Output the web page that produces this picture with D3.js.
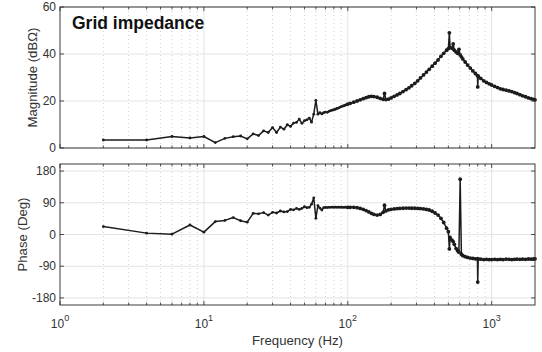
<!DOCTYPE html>
<html>
<head>
<meta charset="utf-8">
<script src="https://cdn.jsdelivr.net/npm/d3@7"></script>
<style>
    body { margin: 0; background: #fff; }
    svg text { font-family: "Liberation Sans", Arial, sans-serif; }
</style>
</head>
<body>
<div id="chart"></div>
<script>
// Measured grid impedance (frequency in Hz)
const freq = [
    2, 4, 6, 8, 10, 12, 14, 16, 18, 20,
    22, 24, 26, 28, 30, 32, 34, 36, 38, 40,
    42, 44, 46, 48, 50, 52, 54, 56, 58, 60,
    62, 64, 66, 68, 70, 72, 74, 76, 78, 80,
    82, 84, 86, 88, 90, 92, 94, 96, 98,
    100, 104, 110, 116, 122, 128, 134, 140, 146, 152,
    160, 168, 176, 180, 184, 192, 200, 210, 220, 230,
    242, 254, 266, 278, 292, 306, 320, 336, 352, 368,
    386, 404, 424, 444, 464, 486, 500, 508, 514, 530,
    540, 550, 566, 580, 592, 604, 616, 630, 654, 680,
    710, 740, 770, 796, 800, 806, 840, 880, 920, 960,
    1000, 1050, 1100, 1150, 1200, 1260, 1320, 1380, 1440, 1500,
    1570, 1640, 1720, 1800, 1880, 1960, 2000
];

const magnitude = [
    3.4, 3.4, 4.9, 4.3, 4.9, 2.3, 4.1, 4.8, 5.1, 3.9,
    6.0, 5.3, 7.3, 6.6, 8.7, 6.6, 8.9, 8.0, 9.9, 9.2,
    10.6, 10.9, 12.3, 10.5, 11.6, 12.0, 12.7, 11.0, 14.4, 20.3,
    14.4, 15.0, 14.5, 15.0, 15.3, 15.2, 15.6, 15.9, 16.1, 16.3,
    16.5, 16.8, 17.0, 17.3, 17.6, 17.8, 18.0, 18.2, 18.5,
    18.7, 19.0, 19.5, 20.0, 20.5, 21.0, 21.4, 21.8, 22.0, 21.9,
    21.6, 21.1, 20.7, 23.2, 20.6, 20.8, 21.3, 22.0, 22.6, 23.2,
    24.0, 24.8, 25.6, 26.5, 27.5, 28.6, 29.8, 31.1, 32.3, 33.5,
    34.8, 36.1, 37.5, 39.0, 40.3, 41.6, 42.3, 49.0, 42.8, 42.4,
    44.3, 41.6, 40.9, 40.3, 42.0, 39.6, 38.8, 37.9, 36.6, 35.3,
    34.0, 32.8, 31.7, 30.8, 26.0, 30.6, 29.6, 28.6, 27.9, 27.3,
    26.8, 26.2, 25.7, 25.2, 24.9, 24.6, 24.3, 24.0, 23.6, 23.2,
    22.7, 22.2, 21.8, 21.3, 21.0, 20.7, 20.5
];

const phase = [
    22.5, 3.9, 1, 27, 6.6, 36.6, 40, 48, 39, 35,
    60, 58.6, 62, 55, 63, 61, 66.7, 64, 65, 71,
    70, 74, 71, 74, 79, 76, 77, 86, 104, 46,
    82, 75, 69.5, 76, 77, 76.5, 77, 77, 77.5, 77,
    77.5, 77, 77.5, 77, 77.5, 77, 77, 77.5, 77,
    77, 77, 77, 76, 74, 71.5, 68, 64, 60, 57,
    55, 57, 63, 83, 67, 70, 71.5, 72.5, 73.5, 74,
    74.5, 75, 75, 74.5, 74.5, 74, 73.5, 72.5, 71, 69.5,
    66, 61, 55, 46, 34, 18, 8, -41, -8, -16,
    -20, -28, -40, -46, -50, 157, -56, -60, -63, -65,
    -67, -68, -69, -69, -135, -69.5, -70, -71, -70.5, -71,
    -71, -70.5, -71, -70.5, -71, -70, -70.5, -71, -70.5, -70,
    -70.5, -70, -70.5, -69.5, -70, -69.5, -69
];

const decades = [1, 10, 100, 1000];
const decadeExp = ["0", "1", "2", "3"];
const magTicks = [0, 20, 40, 60];
const phaseTicks = [-180, -90, 0, 90, 180];

const width = 542, height = 352;
const left = 60, right = 535;

const svg = d3.select("#chart").append("svg")
    .attr("width", width)
    .attr("height", height);

const x = d3.scaleLog().domain([1, 2000]).range([left, right]);
const minorTicks = decades.flatMap(d => d3.range(2, 10).map(k => k * d)).filter(v => v < 2000);

const axisColor = "#262626";
const textColor = "#333";

function drawPanel(cfg) {
    const y = d3.scaleLinear().domain(cfg.domain).range([cfg.bottom, cfg.top]);
    const g = svg.append("g");

    // minor grid (dotted)
    g.selectAll(".minor-grid")
        .data(minorTicks)
        .enter().append("line")
        .attr("x1", d => x(d)).attr("x2", d => x(d))
        .attr("y1", cfg.top).attr("y2", cfg.bottom)
        .attr("stroke", "#c4c4c4")
        .attr("stroke-width", 0.8)
        .attr("stroke-dasharray", "1,3");

    // major grid
    g.selectAll(".xgrid")
        .data(decades.slice(1))
        .enter().append("line")
        .attr("x1", d => x(d)).attr("x2", d => x(d))
        .attr("y1", cfg.top).attr("y2", cfg.bottom)
        .attr("stroke", "#e3e3e3");

    g.selectAll(".ygrid")
        .data(cfg.ticks)
        .enter().append("line")
        .attr("x1", left).attr("x2", right)
        .attr("y1", d => y(d)).attr("y2", d => y(d))
        .attr("stroke", "#e3e3e3");

    // data line + markers
    const pts = freq.map((f, i) => ({ f: f, v: cfg.values[i] }));
    g.append("path")
        .datum(pts)
        .attr("fill", "none")
        .attr("stroke", "#1c1c1c")
        .attr("stroke-width", 1.5)
        .attr("stroke-linejoin", "round")
        .attr("d", d3.line().x(d => x(d.f)).y(d => y(d.v)));

    g.selectAll(".pt")
        .data(pts)
        .enter().append("circle")
        .attr("cx", d => x(d.f))
        .attr("cy", d => y(d.v))
        .attr("r", d => d.f >= 100 ? 1.9 : 1.4)
        .attr("fill", "#1c1c1c");

    // frame
    g.append("rect")
        .attr("x", left).attr("y", cfg.top)
        .attr("width", right - left).attr("height", cfg.bottom - cfg.top)
        .attr("fill", "none")
        .attr("stroke", axisColor)
        .attr("stroke-width", 0.9);

    // x ticks (inside, top and bottom)
    const xt = decades.map(d => ({ v: d, len: 4 }))
        .concat(minorTicks.map(d => ({ v: d, len: 2.5 })));
    g.selectAll(".xtb")
        .data(xt)
        .enter().append("line")
        .attr("x1", d => x(d.v)).attr("x2", d => x(d.v))
        .attr("y1", cfg.bottom).attr("y2", d => cfg.bottom - d.len)
        .attr("stroke", axisColor).attr("stroke-width", 0.8);
    g.selectAll(".xtt")
        .data(xt)
        .enter().append("line")
        .attr("x1", d => x(d.v)).attr("x2", d => x(d.v))
        .attr("y1", cfg.top).attr("y2", d => cfg.top + d.len)
        .attr("stroke", axisColor).attr("stroke-width", 0.8);

    // y ticks (inside, left and right)
    g.selectAll(".ytl")
        .data(cfg.ticks)
        .enter().append("line")
        .attr("x1", left).attr("x2", left + 4)
        .attr("y1", d => y(d)).attr("y2", d => y(d))
        .attr("stroke", axisColor).attr("stroke-width", 0.8);
    g.selectAll(".ytr")
        .data(cfg.ticks)
        .enter().append("line")
        .attr("x1", right).attr("x2", right - 4)
        .attr("y1", d => y(d)).attr("y2", d => y(d))
        .attr("stroke", axisColor).attr("stroke-width", 0.8);

    g.selectAll(".ylab")
        .data(cfg.ticks)
        .enter().append("text")
        .attr("x", left - 4)
        .attr("y", d => y(d))
        .attr("dy", "0.35em")
        .attr("text-anchor", "end")
        .attr("font-size", "12px")
        .attr("fill", textColor)
        .text(d => d);

    g.append("text")
        .attr("transform", `translate(${cfg.labelX},${(cfg.top + cfg.bottom) / 2}) rotate(-90)`)
        .attr("text-anchor", "middle")
        .attr("font-size", "13.2px")
        .attr("fill", textColor)
        .text(cfg.label);

    return g;
}

drawPanel({
    domain: [0, 60], top: 7, bottom: 148,
    ticks: magTicks, values: magnitude,
    label: "Magnitude (dB\u03A9)", labelX: 37
});

drawPanel({
    domain: [-200, 200], top: 164, bottom: 305,
    ticks: phaseTicks, values: phase,
    label: "Phase (Deg)", labelX: 27
});

// title
svg.append("text")
    .attr("x", 72)
    .attr("y", 28.5)
    .attr("font-size", "17.5px")
    .attr("font-weight", "bold")
    .attr("fill", "#111")
    .text("Grid impedance");

// x tick labels 10^n
const xl = svg.selectAll(".xlab")
    .data(decades)
    .enter().append("text")
    .attr("x", d => x(d))
    .attr("y", 327.5)
    .attr("text-anchor", "middle")
    .attr("font-size", "12px")
    .attr("fill", textColor);
xl.append("tspan").text("10");
xl.append("tspan")
    .attr("dy", -7)
    .attr("font-size", "9px")
    .text((d, i) => decadeExp[i]);

svg.append("text")
    .attr("x", (left + right) / 2)
    .attr("y", 345)
    .attr("text-anchor", "middle")
    .attr("font-size", "13.2px")
    .attr("fill", textColor)
    .text("Frequency (Hz)");
</script>
</body>
</html>
